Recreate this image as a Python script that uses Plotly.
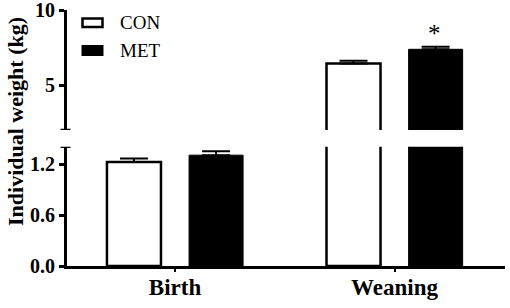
import plotly.graph_objects as go

# ---- data ----
categories = ["Birth", "Weaning"]
con_values = [1.23, 6.44]
con_errors = [0.04, 0.18]
met_values = [1.31, 7.38]
met_errors = [0.045, 0.17]
series_names = ["CON", "MET"]
lower_ticks = [0.0, 0.6, 1.2]
lower_ticktext = ["0.0", "0.6", "1.2"]
upper_ticks = [5, 10]
upper_ticktext = ["5", "10"]
sig_category = "Weaning"
sig_label = "*"

# ---- geometry ----
W, H = 510, 308
L, R, T, B = 67, 5, 10, 42
PW, PH = W - L - R, H - T - B
FONT = "Liberation Serif"


def pxx(px):
    return (px - L) / PW


def pxy(py):
    return (H - B - py) / PH


lower_range = [0, 1.41]
upper_range = [2, 10.001]
x_range = [-0.492, 1.503]
bar_w = 0.246
off_c = 0.187

fig = go.Figure()

for yax in ["y", "y2"]:
    fig.add_trace(go.Bar(
        x=categories, y=con_values, name=series_names[0], yaxis=yax, xaxis="x",
        width=bar_w, offset=-off_c - bar_w / 2,
        marker=dict(color="white", line=dict(color="black", width=2.5)),
        error_y=dict(type="data", array=con_errors, arrayminus=[0, 0], symmetric=False,
                     color="black", thickness=2, width=14),
        showlegend=False, cliponaxis=True,
    ))
    fig.add_trace(go.Bar(
        x=categories, y=met_values, name=series_names[1], yaxis=yax, xaxis="x",
        width=bar_w, offset=off_c - bar_w / 2,
        marker=dict(color="black", line=dict(color="black", width=1)),
        error_y=dict(type="data", array=met_errors, arrayminus=[0, 0], symmetric=False,
                     color="black", thickness=2, width=14),
        showlegend=False, cliponaxis=True,
    ))

axis_common = dict(showline=True, linecolor="black", linewidth=3, ticks="outside",
                   ticklen=5, tickwidth=3, tickcolor="black", showgrid=False, zeroline=False,
                   automargin=False, ticklabeloverflow="allow",
                   tickfont=dict(family=FONT, size=20, color="black", weight="bold"))

fig.update_layout(
    width=W, height=H, margin=dict(l=L, r=R, t=T, b=B, autoexpand=False),
    paper_bgcolor="white", plot_bgcolor="white",
    barmode="overlay",
    xaxis=dict(type="category", range=x_range, showline=True, linecolor="black", linewidth=3,
               ticks="outside", ticklen=3, tickwidth=2, tickcolor="black", showgrid=False,
               anchor="y", automargin=False, ticklabeloverflow="allow",
               ticklabelstandoff=-5,
               tickfont=dict(family=FONT, size=23, color="black", weight="bold")),
    yaxis=dict(domain=[0, pxy(146.7)], range=lower_range, tickvals=lower_ticks,
               ticktext=lower_ticktext, anchor="x", **axis_common),
    yaxis2=dict(domain=[pxy(130), 1], range=upper_range, tickvals=upper_ticks,
                ticktext=upper_ticktext, anchor="x", **axis_common),
)

# axis break caps
for yref, yv in [("y", lower_range[1]), ("y2", upper_range[0])]:
    fig.add_shape(type="line", xref="paper", xsizemode="pixel", xanchor=0, x0=-6.5, x1=3.5,
                  yref=yref, y0=yv, y1=yv, line=dict(color="black", width=2.5))

# legend (drawn manually)
fig.add_shape(type="rect", xref="paper", yref="paper", x0=pxx(82.5), x1=pxx(102.5),
              y0=pxy(27), y1=pxy(18.5), fillcolor="white", line=dict(color="black", width=2.5))
fig.add_shape(type="rect", xref="paper", yref="paper", x0=pxx(81.5), x1=pxx(103.5),
              y0=pxy(56), y1=pxy(45), fillcolor="black", line=dict(color="black", width=0))
fig.add_annotation(x=pxx(118), y=pxy(22.5), xref="paper", yref="paper", text=series_names[0],
                   showarrow=False, xanchor="left", yanchor="middle",
                   font=dict(family=FONT, size=19, color="black"))
fig.add_annotation(x=pxx(118), y=pxy(50.5), xref="paper", yref="paper", text=series_names[1],
                   showarrow=False, xanchor="left", yanchor="middle",
                   font=dict(family=FONT, size=19, color="black"))

# y title
fig.add_annotation(x=pxx(15), y=pxy(122), xref="paper", yref="paper",
                   text="Individual weight (kg)", textangle=-90, showarrow=False,
                   xanchor="center", yanchor="middle",
                   font=dict(family=FONT, size=22, color="black", weight="bold"))

# significance marker
i = categories.index(sig_category)
fig.add_annotation(x=sig_category, y=met_values[i] + met_errors[i], xref="x", yref="y2",
                   xshift=off_c * PW / (x_range[1] - x_range[0]) - 1, yshift=-2,
                   text=sig_label, showarrow=False, yanchor="bottom",
                   font=dict(family=FONT, size=25, color="black"))

fig.write_html("out.html", config={"displayModeBar": False},
               post_script="document.body.style.margin='0';")
